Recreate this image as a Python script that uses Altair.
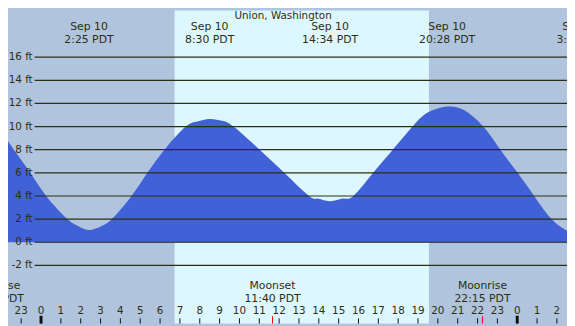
import altair as alt
import pandas as pd

# ---- data (hours after midnight, Sep 10, PDT) ----
TIDE_HOURS = [-2.06, -1.37, -0.54, 0.26, 1.33, 1.91, 2.42, 3.01, 3.57, 4.56, 5.36,
              6.22, 7.29, 7.88, 8.50, 9.12, 9.70, 11.02, 12.26, 13.51, 13.94, 14.57,
              15.23, 15.74, 16.74, 17.73, 18.72, 19.30, 19.80, 20.47, 21.29, 22.29,
              23.15, 24.02, 24.85, 25.73, 26.51]
TIDE_FEET = [9.72, 8.0, 6.0, 4.0, 2.0, 1.36, 1.05, 1.36, 2.0, 4.0, 6.0,
             8.0, 10.0, 10.45, 10.66, 10.5, 10.0, 8.0, 6.0, 4.0, 3.78, 3.55,
             3.78, 4.0, 6.0, 8.0, 10.0, 11.0, 11.45, 11.73, 11.45, 10.0,
             8.0, 6.0, 4.0, 2.0, 0.99]

SUNRISE_HOUR = 6.733   # 6:44
SUNSET_HOUR = 19.553   # 19:33

EVENT_HOURS = [2.417, 8.5, 14.567, 20.467, 27.217]
EVENT_DATES = ["Sep 10", "Sep 10", "Sep 10", "Sep 10", "Sep 11"]
EVENT_TIMES = ["2:25 PDT", "8:30 PDT", "14:34 PDT", "20:28 PDT", "3:13 PDT"]

MOON_HOURS = [-2.28, 11.667, 22.25]
MOON_NAMES = ["Moonrise", "Moonset", "Moonrise"]
MOON_TIMES = ["21:43 PDT", "11:40 PDT", "22:15 PDT"]

GRID_FEET = [-2, 0, 2, 4, 6, 8, 10, 12, 14, 16]
GRID_LABELS = ["-2 ft", "0 ft", "2 ft", "4 ft", "6 ft", "8 ft", "10 ft", "12 ft", "14 ft", "16 ft"]

HOUR_TICKS = list(range(-2, 27))
HOUR_LABELS = [str(h % 24) for h in HOUR_TICKS]
MIDNIGHT_TICKS = [0, 24]

TITLE = "Union, Washington"

# ---- layout / style ----
W, H = 567, 318
X_DOMAIN = [-1.665, 26.509]
Y_DOMAIN = [-7.05, 20.06]
NIGHT = "#B0C4DE"
DAY = "#DDF7FF"
BLUE = "#4161D6"
INK = "#2E2E12"
FONT = "DejaVu Sans"

xs = alt.Scale(domain=X_DOMAIN, nice=False, zero=False)
ys = alt.Scale(domain=Y_DOMAIN, nice=False, zero=False)

bands = pd.DataFrame({
    "start": [X_DOMAIN[0] - 2, SUNRISE_HOUR, SUNSET_HOUR],
    "end": [SUNRISE_HOUR, SUNSET_HOUR, X_DOMAIN[1] + 2],
    "kind": ["night", "day", "night"],
})
tide = pd.DataFrame({"hour": TIDE_HOURS, "feet": TIDE_FEET})
grid = pd.DataFrame({"feet": GRID_FEET, "label": GRID_LABELS})
events = pd.DataFrame({"hour": EVENT_HOURS, "date": EVENT_DATES, "time": EVENT_TIMES})
moon = pd.DataFrame({"hour": MOON_HOURS, "name": MOON_NAMES, "time": MOON_TIMES})
hours = pd.DataFrame({"hour": HOUR_TICKS, "label": HOUR_LABELS})
midnights = pd.DataFrame({"hour": MIDNIGHT_TICKS})
title_df = pd.DataFrame({"t": [TITLE]})

X = lambda f: alt.X(f, scale=xs, axis=None)
Y = lambda f: alt.Y(f, scale=ys, axis=None)

band_layer = alt.Chart(bands).mark_rect(clip=True).encode(
    x=X("start:Q"), x2="end:Q", y=alt.value(0), y2=alt.value(H),
    color=alt.Color("kind:N", scale=alt.Scale(domain=["night", "day"], range=[NIGHT, DAY]), legend=None),
)

area_layer = alt.Chart(tide).mark_area(clip=True, interpolate="natural", color=BLUE).encode(
    x=X("hour:Q"), y=Y("feet:Q"), y2=alt.value(H),
)

grid_layer = alt.Chart(grid).mark_rule(color=INK, strokeWidth=1.2).encode(
    y=Y("feet:Q"), x=alt.value(27), x2=alt.value(W),
)

ylab_layer = alt.Chart(grid).mark_text(align="right", baseline="middle", font=FONT,
                                       fontSize=10.5, color=INK).encode(
    y=Y("feet:Q"), x=alt.value(25), text="label:N",
)

title_layer = alt.Chart(title_df).mark_text(align="center", baseline="alphabetic", font=FONT,
                                            fontSize=10.5, color=INK).encode(
    x=alt.value(279), y=alt.value(8.5), text="t:N",
)

date_layer = alt.Chart(events).mark_text(clip=True, align="center", baseline="alphabetic",
                                         font=FONT, fontSize=11, color=INK).encode(
    x=X("hour:Q"), y=alt.value(20.5), text="date:N",
)
time_layer = alt.Chart(events).mark_text(clip=True, align="center", baseline="alphabetic",
                                         font=FONT, fontSize=11, color=INK).encode(
    x=X("hour:Q"), y=alt.value(33), text="time:N",
)

moon_name_layer = alt.Chart(moon).mark_text(clip=True, align="center", baseline="alphabetic",
                                            font=FONT, fontSize=11, color=INK).encode(
    x=X("hour:Q"), y=alt.value(282.5), text="name:N",
)
moon_time_layer = alt.Chart(moon).mark_text(clip=True, align="center", baseline="alphabetic",
                                            font=FONT, fontSize=11, color=INK).encode(
    x=X("hour:Q"), y=alt.value(295.5), text="time:N",
)

hour_label_layer = alt.Chart(hours).mark_text(clip=True, align="center", baseline="alphabetic",
                                              font=FONT, fontSize=10.5, color=INK).encode(
    x=X("hour:Q"), y=alt.value(308), text="label:N",
)
tick_layer = alt.Chart(hours).mark_rule(clip=True, color="#111111", strokeWidth=1).encode(
    x=X("hour:Q"), y=alt.value(312.5), y2=alt.value(H),
)
midnight_layer = alt.Chart(midnights).mark_rule(clip=True, color="#111111", strokeWidth=3).encode(
    x=X("hour:Q"), y=alt.value(310), y2=alt.value(H),
)
moon_tick_layer = alt.Chart(moon).mark_rule(clip=True, color="#FF0000", strokeWidth=1).encode(
    x=X("hour:Q"), y=alt.value(310.3), y2=alt.value(H),
)

chart = alt.layer(
    band_layer, area_layer, grid_layer, ylab_layer, title_layer, date_layer, time_layer,
    moon_name_layer, moon_time_layer, hour_label_layer, tick_layer, midnight_layer, moon_tick_layer,
).properties(
    width=W, height=H, padding=0, autosize=alt.AutoSizeParams(type="none"), background=NIGHT,
).configure_view(stroke=None)

chart.save("out.html", embed_options={"renderer": "svg", "actions": False})
